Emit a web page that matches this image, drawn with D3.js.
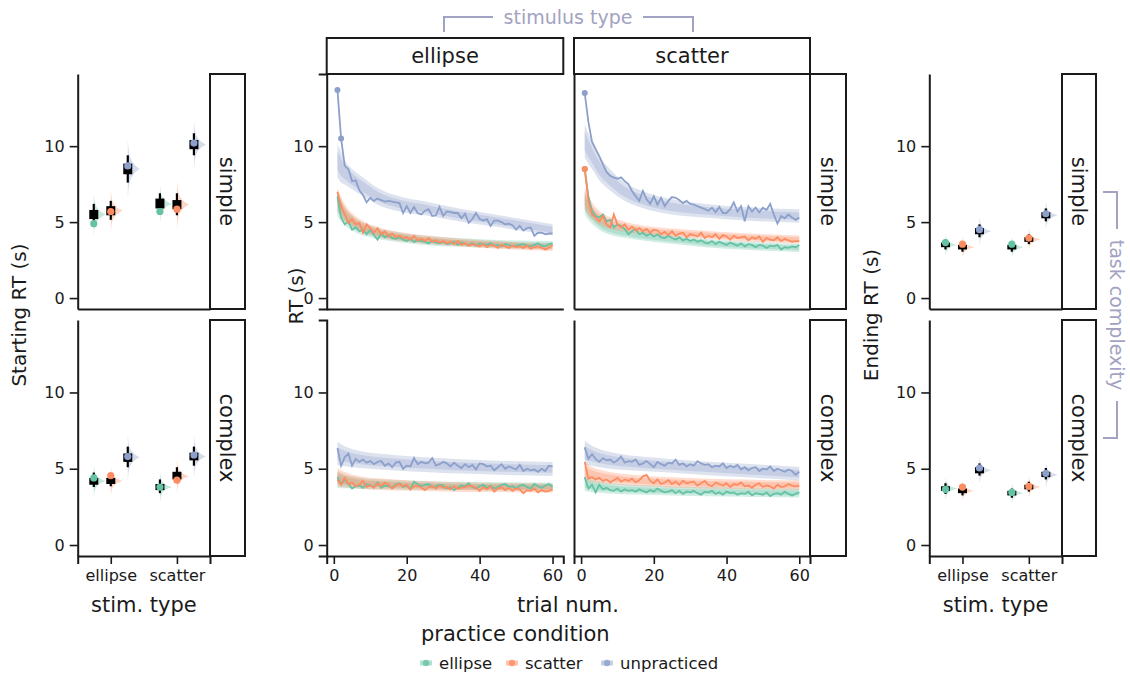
<!DOCTYPE html>
<html>
<head>
<meta charset="utf-8">
<script src="https://cdn.jsdelivr.net/npm/d3@7"></script>
<style>
  body { margin: 0; background: #fff; }
  text { font-family: "DejaVu Sans", sans-serif; }
</style>
</head>
<body>
<svg id="chart" width="1130" height="677"></svg>
<script>
// ---- data ----
const conditions = ["ellipse", "scatter", "unpracticed"];
const colors = ["#66c2a5", "#fc8d62", "#8da0cb"];
const stimTypes = ["ellipse", "scatter"];
const complexities = ["simple", "complex"];
const yTicks = [0, 5, 10];
const xTicks = [0, 20, 40, 60];

// side panels, one row per stim x condition:
// [point, lo95, lo66, median, hi66, hi95]
const startSimple = [
  [4.9, 4.9, 5.2, 5.5, 5.8, 6.2],
  [5.7, 5.15, 5.45, 5.75, 6.05, 6.4],
  [8.7, 7.6, 8.15, 8.5, 8.85, 9.4],
  [5.7, 5.75, 5.9, 6.2, 6.55, 6.9],
  [5.85, 5.45, 5.85, 6.15, 6.45, 6.9],
  [10.2, 9.4, 9.8, 10.1, 10.4, 10.85]
];
const startComplex = [
  [4.4, 3.8, 3.95, 4.2, 4.4, 4.75],
  [4.55, 3.85, 4.0, 4.2, 4.4, 4.7],
  [5.8, 5.1, 5.45, 5.75, 6.0, 6.45],
  [3.8, 3.4, 3.6, 3.8, 4.0, 4.3],
  [4.25, 4.1, 4.3, 4.5, 4.8, 5.1],
  [5.9, 5.2, 5.55, 5.8, 6.05, 6.45]
];
const endSimple = [
  [3.65, 3.2, 3.35, 3.5, 3.65, 3.85],
  [3.55, 3.05, 3.2, 3.35, 3.5, 3.7],
  [4.5, 4.0, 4.2, 4.4, 4.6, 4.85],
  [3.55, 3.05, 3.2, 3.35, 3.5, 3.7],
  [3.95, 3.55, 3.7, 3.85, 4.0, 4.2],
  [5.55, 5.05, 5.25, 5.45, 5.65, 5.9]
];
const endComplex = [
  [3.65, 3.35, 3.55, 3.7, 3.85, 4.05],
  [3.8, 3.25, 3.4, 3.55, 3.7, 3.85],
  [5.05, 4.55, 4.7, 4.9, 5.1, 5.35],
  [3.45, 3.1, 3.25, 3.4, 3.55, 3.7],
  [3.85, 3.5, 3.65, 3.8, 3.95, 4.15],
  [4.7, 4.3, 4.45, 4.6, 4.8, 5.05]
];

// mean RT per trial (1..60), series order: ellipse, scatter, unpracticed
const rtEllipseSimple = [
  [6.7,5.3,4.85,5.05,4.5,4.65,4.4,4.5,4.2,4.5,4.15,3.85,4.25,4.0,4.15,3.95,3.9,4.0,3.85,3.75,3.9,3.7,3.8,3.75,3.7,3.6,3.75,3.65,3.6,3.7,3.55,3.6,3.7,3.5,3.65,3.55,3.5,3.6,3.45,3.6,3.55,3.5,3.6,3.45,3.5,3.4,3.55,3.5,3.4,3.45,3.5,3.55,3.45,3.4,3.5,3.6,3.45,3.4,3.55,3.6],
  [7.0,6.05,5.5,4.95,5.2,4.85,4.95,4.3,4.85,4.6,4.3,4.6,4.2,4.4,4.05,4.25,4.0,4.1,3.95,4.0,3.85,4.1,3.8,3.9,3.75,3.95,3.7,3.8,3.65,3.75,3.6,3.7,3.55,3.75,3.5,3.6,3.45,3.55,3.5,3.4,3.55,3.35,3.5,3.45,3.3,3.5,3.4,3.3,3.45,3.35,3.4,3.3,3.45,3.25,3.35,3.4,3.3,3.2,3.3,3.5],
  [13.7,10.5,8.7,8.5,7.7,7.75,7.1,6.8,6.3,6.6,6.4,6.55,6.45,6.35,6.4,6.35,6.3,6.25,5.6,6.05,5.6,6.0,5.6,5.5,5.75,5.85,5.4,5.45,6.0,5.4,5.7,5.65,5.6,5.6,5.25,5.55,4.95,5.2,5.6,5.2,5.1,5.2,4.75,5.1,5.1,5.0,4.85,4.9,4.8,4.5,4.75,4.45,4.6,4.65,4.1,4.3,4.3,4.2,4.25,4.25]
];
const rtScatterSimple = [
  [8.5,6.7,5.75,5.4,5.3,5.5,5.05,5.15,4.65,4.85,4.75,4.55,4.2,4.4,4.55,4.2,4.3,4.1,4.25,4.05,4.2,4.0,3.95,4.1,3.95,3.85,4.0,3.8,3.9,3.75,3.85,3.7,3.8,3.65,3.6,3.75,3.55,3.7,3.6,3.5,3.65,3.55,3.45,3.6,3.4,3.55,3.5,3.35,3.5,3.45,3.3,3.45,3.4,3.5,3.2,3.35,3.3,3.4,3.35,3.5],
  [8.5,6.4,5.5,5.3,5.05,5.4,4.85,4.65,5.5,4.85,4.65,4.85,4.5,4.7,4.45,4.6,4.4,4.55,4.3,4.5,4.45,4.2,4.35,4.15,4.4,4.1,4.25,4.3,4.0,4.2,4.15,4.05,4.3,3.95,4.1,4.0,4.2,3.9,4.15,4.05,3.85,4.1,3.95,4.0,4.05,3.8,4.0,3.9,4.05,3.7,3.95,3.85,3.8,4.0,3.75,3.9,3.8,3.7,3.75,3.75],
  [13.5,11.6,10.3,9.8,9.35,8.8,8.3,8.05,7.95,7.85,7.95,7.7,7.5,7.05,6.7,6.4,7.05,6.5,6.2,6.7,6.15,6.6,6.05,6.4,6.65,6.6,6.45,6.25,6.4,6.2,6.15,6.05,5.95,5.85,5.75,5.95,5.65,6.0,5.6,5.6,5.85,6.3,5.7,6.05,5.05,6.05,5.7,5.95,5.65,5.95,5.8,6.2,5.5,4.9,5.4,5.25,5.5,5.3,5.15,5.3]
];
const rtEllipseComplex = [
  [4.45,4.0,4.3,4.0,3.7,3.85,3.9,3.75,4.0,3.9,3.8,4.1,3.75,3.9,3.85,3.75,3.95,4.05,3.8,3.9,3.65,4.15,4.0,3.85,3.95,4.0,3.8,3.85,3.95,3.9,3.7,3.8,3.6,3.75,3.9,3.85,4.05,3.8,3.7,3.85,3.95,3.75,3.9,3.7,3.8,3.95,4.0,3.8,3.85,3.7,3.9,3.95,3.8,3.7,4.0,3.85,3.75,3.9,4.0,3.8],
  [4.3,3.95,4.4,4.0,4.1,3.85,3.95,4.2,3.8,3.9,3.75,4.05,3.85,4.1,3.95,3.7,3.9,4.0,3.85,3.95,3.65,3.85,3.9,3.75,3.6,3.8,3.85,3.7,3.9,3.75,3.8,3.65,3.85,3.7,3.75,3.8,3.9,3.85,3.75,3.55,3.8,3.65,3.85,3.5,3.7,3.8,3.6,3.75,3.55,3.7,3.65,3.4,3.6,3.55,3.7,3.45,3.6,3.5,3.55,3.65],
  [6.35,5.2,5.75,6.0,5.2,5.65,5.45,5.6,5.4,5.5,5.3,5.45,5.5,5.2,5.35,5.1,5.4,5.45,5.0,5.2,5.15,5.7,5.3,5.45,5.35,5.4,5.7,5.2,5.3,5.45,5.35,5.15,5.4,5.2,5.05,5.3,5.1,5.25,4.95,5.35,5.3,5.15,5.2,4.9,5.1,5.3,5.0,5.15,5.05,4.95,5.25,4.85,5.0,4.9,4.95,4.8,5.0,4.85,5.2,5.15]
];
const rtScatterComplex = [
  [4.45,3.7,3.95,3.45,3.95,3.65,3.75,3.6,3.55,3.7,3.5,3.65,3.55,3.6,3.5,3.65,3.55,3.45,3.6,3.5,3.7,3.55,3.45,3.5,3.6,3.4,3.55,3.35,3.5,3.45,3.55,3.4,3.3,3.5,3.45,3.55,3.35,3.45,3.3,3.5,3.4,3.45,3.3,3.4,3.35,3.5,3.25,3.4,3.35,3.3,3.45,3.2,3.35,3.4,3.3,3.5,3.35,3.25,3.35,3.45],
  [5.45,4.35,4.45,4.3,4.4,4.2,4.3,4.1,4.25,4.4,4.15,4.3,4.2,4.35,4.1,4.25,4.5,4.6,4.2,4.05,4.3,4.0,4.1,4.25,4.0,4.15,3.95,4.2,4.05,4.1,4.15,3.9,4.05,4.2,3.95,3.85,4.1,4.0,3.9,4.05,3.8,4.0,3.95,4.1,3.85,3.9,3.75,3.95,4.05,3.8,3.9,3.85,3.7,3.95,3.8,3.85,4.0,3.9,3.85,3.9],
  [6.4,5.65,5.95,5.65,5.45,5.7,5.55,5.6,5.4,5.55,5.8,5.4,5.5,5.45,5.6,5.25,5.35,5.5,5.3,5.1,5.45,5.3,5.2,5.4,5.35,5.6,5.25,5.35,5.15,5.3,5.2,5.5,5.35,5.25,5.3,5.1,5.2,5.15,5.35,5.05,5.2,5.1,5.25,4.95,5.1,4.9,5.05,5.1,4.85,5.0,4.95,5.15,4.85,5.0,4.9,4.8,4.95,4.85,4.6,4.8]
];

// fitted curve and its intervals, read at these trials
const fitTrials = [1, 2, 3, 5, 8, 12, 18, 25, 35, 45, 60];
const fitEllipseSimple = [
  [6.2,5.75,5.4,4.95,4.55,4.25,4.0,3.8,3.65,3.55,3.5],
  [6.5,6.0,5.65,5.15,4.7,4.35,4.05,3.85,3.65,3.5,3.35],
  [9.05,8.6,8.27,7.83,7.33,6.7,6.2,5.9,5.45,5.07,4.5]
];
const outerEllipseSimple = [
  [0.8,0.7,0.6,0.5,0.42,0.36,0.32,0.3,0.28,0.27,0.26],
  [0.75,0.65,0.55,0.45,0.38,0.33,0.3,0.28,0.26,0.25,0.25],
  [1.1,1.0,0.8,0.67,0.61,0.55,0.5,0.45,0.42,0.4,0.36]
];
const innerEllipseSimple = [
  [0.45,0.4,0.33,0.28,0.23,0.2,0.18,0.16,0.15,0.15,0.14],
  [0.42,0.36,0.3,0.25,0.21,0.18,0.16,0.15,0.14,0.14,0.14],
  [0.6,0.55,0.45,0.37,0.34,0.3,0.27,0.25,0.23,0.22,0.2]
];
const fitScatterSimple = [
  [6.3,5.8,5.45,4.95,4.55,4.3,4.05,3.85,3.6,3.45,3.3],
  [6.55,6.1,5.75,5.3,4.95,4.7,4.45,4.3,4.15,4.0,3.85],
  [10.35,9.85,9.4,8.55,7.78,7.0,6.4,6.0,5.73,5.55,5.4]
];
const outerScatterSimple = [
  [0.75,0.65,0.55,0.45,0.38,0.33,0.3,0.28,0.27,0.27,0.27],
  [0.75,0.65,0.55,0.45,0.38,0.33,0.3,0.28,0.27,0.27,0.27],
  [1.1,1.0,0.9,0.8,0.7,0.6,0.55,0.5,0.45,0.44,0.44]
];
const innerScatterSimple = [
  [0.42,0.36,0.3,0.25,0.21,0.18,0.16,0.15,0.15,0.15,0.15],
  [0.42,0.36,0.3,0.25,0.21,0.18,0.16,0.15,0.15,0.15,0.15],
  [0.6,0.55,0.5,0.44,0.38,0.33,0.3,0.27,0.25,0.24,0.24]
];
const fitEllipseComplex = [
  [4.3,4.22,4.17,4.1,4.03,3.98,3.94,3.9,3.87,3.85,3.83],
  [4.45,4.35,4.28,4.18,4.08,4.0,3.93,3.87,3.8,3.77,3.72],
  [6.0,5.9,5.82,5.7,5.58,5.48,5.37,5.27,5.15,5.07,4.98]
];
const outerEllipseComplex = [
  [0.55,0.5,0.45,0.4,0.35,0.33,0.3,0.28,0.27,0.27,0.27],
  [0.6,0.55,0.5,0.45,0.4,0.37,0.35,0.33,0.32,0.3,0.3],
  [0.77,0.7,0.65,0.6,0.55,0.52,0.5,0.48,0.47,0.46,0.46]
];
const innerEllipseComplex = [
  [0.3,0.28,0.25,0.22,0.19,0.18,0.16,0.15,0.15,0.15,0.15],
  [0.33,0.3,0.28,0.25,0.22,0.2,0.19,0.18,0.17,0.16,0.16],
  [0.42,0.38,0.36,0.33,0.3,0.28,0.27,0.26,0.26,0.25,0.25]
];
const fitScatterComplex = [
  [4.05,3.95,3.88,3.8,3.72,3.65,3.6,3.55,3.5,3.46,3.42],
  [4.85,4.72,4.62,4.5,4.38,4.28,4.18,4.1,4.02,3.97,3.92],
  [6.05,5.95,5.85,5.7,5.55,5.42,5.3,5.18,5.02,4.88,4.67]
];
const outerScatterComplex = [
  [0.5,0.45,0.42,0.38,0.35,0.33,0.31,0.3,0.3,0.3,0.3],
  [0.6,0.55,0.5,0.45,0.4,0.37,0.35,0.34,0.33,0.32,0.32],
  [0.8,0.72,0.66,0.6,0.55,0.5,0.47,0.45,0.44,0.44,0.44]
];
const innerScatterComplex = [
  [0.28,0.25,0.23,0.21,0.19,0.18,0.17,0.16,0.16,0.16,0.16],
  [0.33,0.3,0.28,0.25,0.22,0.2,0.19,0.19,0.18,0.18,0.18],
  [0.44,0.4,0.36,0.33,0.3,0.28,0.26,0.25,0.24,0.24,0.24]
];

// trials drawn with a point marker: [stim, complexity, series index, trial]
const markedTrials = [
  ["ellipse", "simple", 2, 1], ["ellipse", "simple", 2, 2],
  ["scatter", "simple", 2, 1], ["scatter", "simple", 0, 1], ["scatter", "simple", 1, 1]
];

// ---- layout ----
const svg = d3.select("#chart");
const ink = "#1a1a1a";
const noteColor = "#a2a2c2";

const rowBox = [[74, 309], [320, 556]];
const yScales = rowBox.map(r => d3.scaleLinear().domain([-0.72, 14.75]).range([r[1], r[0]]));

function styleAxis(sel) {
  sel.attr("font-size", 16).attr("font-family", "DejaVu Sans, sans-serif");
  sel.select(".domain").attr("stroke", ink).attr("stroke-width", 2);
  sel.selectAll(".tick line").attr("stroke", ink).attr("stroke-width", 1.6);
  sel.selectAll(".tick text").attr("fill", ink);
}

function rowStrip(x0, x1, r, label) {
  svg.append("rect")
    .attr("x", x0).attr("y", r[0]).attr("width", x1 - x0).attr("height", r[1] - r[0])
    .attr("fill", "#fff").attr("stroke", ink).attr("stroke-width", 2);
  svg.append("text")
    .attr("transform", `translate(${(x0 + x1) / 2},${(r[0] + r[1]) / 2}) rotate(90)`)
    .attr("text-anchor", "middle").attr("dy", "0.35em")
    .attr("font-size", 21).attr("fill", ink)
    .text(label);
}

// ---- side panels (starting / ending RT) ----
const sideCols = [
  { x0: 77.7, x1: 210, strip: 245, data: [startSimple, startComplex], label: "Starting RT (s)", labelX: 26 },
  { x0: 929.3, x1: 1062, strip: 1096, data: [endSimple, endComplex], label: "Ending RT (s)", labelX: 878 }
];

sideCols.forEach(col => {
  const x = d3.scalePoint().domain(stimTypes).range([col.x0, col.x1]).padding(0.5);
  const dodge = d3.scalePoint().domain(conditions).range([-17, 17]);

  rowBox.forEach((r, ri) => {
    const y = yScales[ri];
    svg.append("g").attr("transform", `translate(${col.x0},0)`)
      .call(d3.axisLeft(y).tickValues(yTicks).tickSize(8).tickPadding(5).tickSizeOuter(0))
      .call(styleAxis);
    const xa = d3.axisBottom(x).tickSizeOuter(0).tickPadding(6).tickSize(ri === 1 ? 8 : 0);
    if (ri === 0) xa.tickFormat("");
    svg.append("g").attr("transform", `translate(0,${r[1]})`).call(xa).call(styleAxis);
    rowStrip(col.x1, col.strip, r, complexities[ri]);

    col.data[ri].forEach((d, i) => {
      const ci = i % 3;
      const cx = x(stimTypes[Math.floor(i / 3)]) + dodge(conditions[ci]);
      const [pt, lo95, lo66, mid, hi66, hi95] = d;
      const sd = (hi95 - lo95) / 3.4;
      const vals = d3.range(mid - 3.5 * sd, mid + 3.5 * sd, sd / 12);
      // slab: peaked density to the right of the interval
      const slab = d3.area()
        .x0(cx)
        .x1(v => cx + 12 * Math.exp(-Math.abs(v - mid) / sd * 1.1))
        .y(v => y(v))
        .curve(d3.curveBasis);
      svg.append("path").attr("d", slab(vals))
        .attr("fill", colors[ci]).attr("fill-opacity", 0.38);
      svg.append("line")
        .attr("x1", cx).attr("x2", cx).attr("y1", y(lo95)).attr("y2", y(hi95))
        .attr("stroke", "#000").attr("stroke-width", 2.2);
      svg.append("rect")
        .attr("x", cx - 4.5).attr("width", 9)
        .attr("y", y(hi66)).attr("height", y(lo66) - y(hi66))
        .attr("fill", "#000");
      svg.append("circle").attr("cx", cx).attr("cy", y(pt)).attr("r", 3.6)
        .attr("fill", colors[ci]);
    });
  });

  svg.append("text")
    .attr("transform", `translate(${col.labelX},315) rotate(-90)`)
    .attr("text-anchor", "middle").attr("font-size", 20).attr("fill", ink)
    .text(col.label);
  svg.append("text")
    .attr("x", (col.x0 + col.x1) / 2).attr("y", 612)
    .attr("text-anchor", "middle").attr("font-size", 21).attr("fill", ink)
    .text("stim. type");
});

// ---- middle panels (RT over trials) ----
const midCols = [
  { stim: "ellipse", x0: 326.7, x1: 563.3, yTicks: true,
    rt: [rtEllipseSimple, rtEllipseComplex], fit: [fitEllipseSimple, fitEllipseComplex],
    outer: [outerEllipseSimple, outerEllipseComplex], inner: [innerEllipseSimple, innerEllipseComplex] },
  { stim: "scatter", x0: 574, x1: 810, yTicks: false,
    rt: [rtScatterSimple, rtScatterComplex], fit: [fitScatterSimple, fitScatterComplex],
    outer: [outerScatterSimple, outerScatterComplex], inner: [innerScatterSimple, innerScatterComplex] }
];

midCols.forEach((col, ci) => {
  const x = d3.scaleLinear().domain([-1.95, 62.95]).range([col.x0, col.x1]);

  // column header
  svg.append("rect")
    .attr("x", col.x0).attr("y", 38).attr("width", col.x1 - col.x0).attr("height", 36)
    .attr("fill", "#fff").attr("stroke", ink).attr("stroke-width", 2);
  svg.append("text")
    .attr("x", (col.x0 + col.x1) / 2).attr("y", 56).attr("dy", "0.35em")
    .attr("text-anchor", "middle").attr("font-size", 21).attr("fill", ink)
    .text(col.stim);

  rowBox.forEach((r, ri) => {
    const y = yScales[ri];
    const bands = svg.append("g");
    const lines = svg.append("g");

    conditions.forEach((c, si) => {
      const fit = col.fit[ri][si];
      [col.outer[ri][si], col.inner[ri][si]].forEach((w, k) => {
        const area = d3.area()
          .x(t => x(t))
          .y0((t, j) => y(fit[j] - w[j]))
          .y1((t, j) => y(fit[j] + w[j]))
          .curve(d3.curveMonotoneX);
        bands.append("path").attr("d", area(fitTrials))
          .attr("fill", colors[si]).attr("fill-opacity", k === 0 ? 0.3 : 0.3);
      });
      const series = col.rt[ri][si];
      const line = d3.line().x((v, j) => x(j + 1)).y(v => y(v));
      lines.append("path").attr("d", line(series))
        .attr("fill", "none").attr("stroke", colors[si]).attr("stroke-width", 1.8);
      markedTrials
        .filter(m => m[0] === col.stim && m[1] === complexities[ri] && m[2] === si)
        .forEach(m => {
          lines.append("circle").attr("cx", x(m[3])).attr("cy", y(series[m[3] - 1]))
            .attr("r", 3).attr("fill", colors[si]);
        });
    });

    const ya = d3.axisLeft(y).tickSizeOuter(0);
    if (col.yTicks) ya.tickValues(yTicks).tickSize(8).tickPadding(5);
    else ya.tickValues([]);
    svg.append("g").attr("transform", `translate(${col.x0},0)`).call(ya).call(styleAxis);

    const xa = d3.axisBottom(x).tickSizeOuter(0);
    if (ri === 1) xa.tickValues(xTicks).tickSize(8).tickPadding(6);
    else xa.tickValues([]);
    svg.append("g").attr("transform", `translate(0,${r[1]})`).call(xa).call(styleAxis);

    if (ci === 1) rowStrip(810, 846, r, complexities[ri]);
  });
});

svg.append("text")
  .attr("transform", "translate(303,296) rotate(-90)")
  .attr("text-anchor", "middle").attr("font-size", 20).attr("fill", ink)
  .text("RT (s)");
svg.append("text")
  .attr("x", 568).attr("y", 612)
  .attr("text-anchor", "middle").attr("font-size", 21).attr("fill", ink)
  .text("trial num.");

// ---- facet annotations ----
svg.append("path")
  .attr("d", "M444,32V17H493M643,17H693V32")
  .attr("fill", "none").attr("stroke", noteColor).attr("stroke-width", 2);
svg.append("text")
  .attr("x", 568).attr("y", 17).attr("dy", "0.35em")
  .attr("text-anchor", "middle").attr("font-size", 19).attr("fill", noteColor)
  .text("stimulus type");

svg.append("path")
  .attr("d", "M1103,192H1117V229M1117,401V438H1103")
  .attr("fill", "none").attr("stroke", noteColor).attr("stroke-width", 2);
svg.append("text")
  .attr("transform", "translate(1117,315) rotate(90)")
  .attr("dy", "0.35em").attr("text-anchor", "middle")
  .attr("font-size", 19).attr("fill", noteColor)
  .text("task complexity");

// ---- legend ----
svg.append("text")
  .attr("x", 421).attr("y", 641)
  .attr("font-size", 21).attr("fill", ink)
  .text("practice condition");

const legendX = [420, 506, 601];
conditions.forEach((c, i) => {
  const g = svg.append("g").attr("transform", `translate(${legendX[i]},663)`);
  g.append("line").attr("x1", 0).attr("x2", 12).attr("y1", 0).attr("y2", 0)
    .attr("stroke", colors[i]).attr("stroke-width", 5).attr("stroke-opacity", 0.5);
  g.append("circle").attr("cx", 6).attr("cy", 0).attr("r", 3.2)
    .attr("fill", colors[i]).attr("fill-opacity", 0.8);
  g.append("text").attr("x", 19).attr("y", 5.5)
    .attr("font-size", 16.5).attr("fill", ink)
    .text(c);
});
</script>
</body>
</html>
